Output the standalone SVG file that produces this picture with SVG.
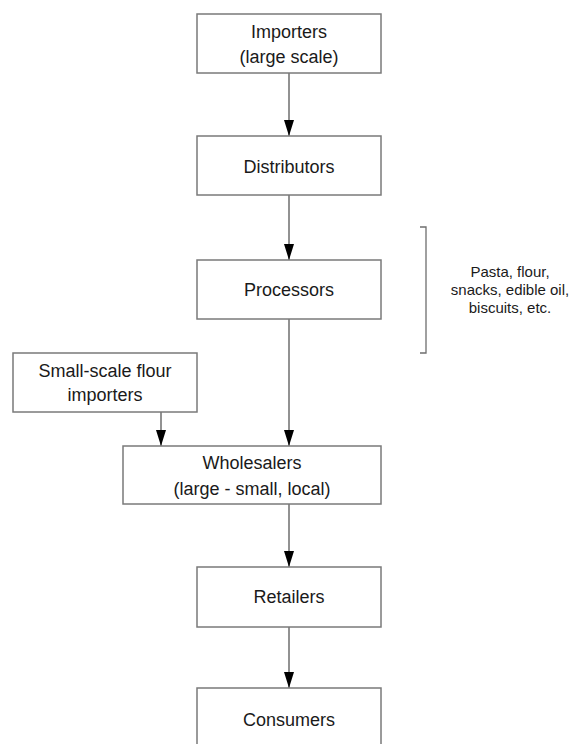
<svg xmlns="http://www.w3.org/2000/svg" width="573" height="744" viewBox="0 0 573 744">
  <style>
    .box { fill: #ffffff; stroke: #7a7a7a; stroke-width: 1.5; }
    .lbl { font-family: "Liberation Sans", Arial, sans-serif; font-size: 18px; fill: #1a1a1a; text-anchor: middle; }
    .note { font-family: "Liberation Sans", Arial, sans-serif; font-size: 15px; fill: #1a1a1a; text-anchor: middle; }
    .conn { fill: none; stroke: #6e6e6e; stroke-width: 1.5; }
    .brk { fill: none; stroke: #6e6e6e; stroke-width: 1.3; }
  </style>
  <defs>
    <marker id="arrow" markerUnits="userSpaceOnUse" markerWidth="16" markerHeight="10" refX="16" refY="5" orient="auto">
      <path d="M0,0 L16,5 L0,10 Z" fill="#000000"/>
    </marker>
  </defs>
  <rect width="573" height="744" fill="#ffffff"/>

  <g id="connectors">
    <line class="conn" x1="289" y1="73" x2="289" y2="136" marker-end="url(#arrow)"/>
    <line class="conn" x1="289" y1="195" x2="289" y2="260" marker-end="url(#arrow)"/>
    <line class="conn" x1="289" y1="319" x2="289" y2="446" marker-end="url(#arrow)"/>
    <line class="conn" x1="161" y1="412" x2="161" y2="446" marker-end="url(#arrow)"/>
    <line class="conn" x1="289" y1="504" x2="289" y2="567" marker-end="url(#arrow)"/>
    <line class="conn" x1="289" y1="627" x2="289" y2="688" marker-end="url(#arrow)"/>
  </g>

  <g id="importers">
    <rect class="box" x="197" y="14" width="184" height="59"/>
    <text class="lbl" x="289" y="38">Importers</text>
    <text class="lbl" x="289" y="63">(large scale)</text>
  </g>
  <g id="distributors">
    <rect class="box" x="197" y="136" width="184" height="59"/>
    <text class="lbl" x="289" y="173">Distributors</text>
  </g>
  <g id="processors">
    <rect class="box" x="197" y="260" width="184" height="59"/>
    <text class="lbl" x="289" y="296">Processors</text>
  </g>
  <g id="small-scale-importers">
    <rect class="box" x="13" y="353" width="184" height="59"/>
    <text class="lbl" x="105" y="377">Small-scale flour</text>
    <text class="lbl" x="105" y="401">importers</text>
  </g>
  <g id="wholesalers">
    <rect class="box" x="123" y="446" width="258" height="58"/>
    <text class="lbl" x="252" y="469">Wholesalers</text>
    <text class="lbl" x="252" y="495">(large - small, local)</text>
  </g>
  <g id="retailers">
    <rect class="box" x="197" y="567" width="184" height="60"/>
    <text class="lbl" x="289" y="603">Retailers</text>
  </g>
  <g id="consumers">
    <rect class="box" x="197" y="688" width="184" height="70"/>
    <text class="lbl" x="289" y="726">Consumers</text>
  </g>

  <g id="processed-products-note">
    <path class="brk" d="M420,227 H426 V353 H420"/>
    <text class="note" x="510" y="277">Pasta, flour,</text>
    <text class="note" x="510" y="295">snacks, edible oil,</text>
    <text class="note" x="510" y="313">biscuits, etc.</text>
  </g>
</svg>
